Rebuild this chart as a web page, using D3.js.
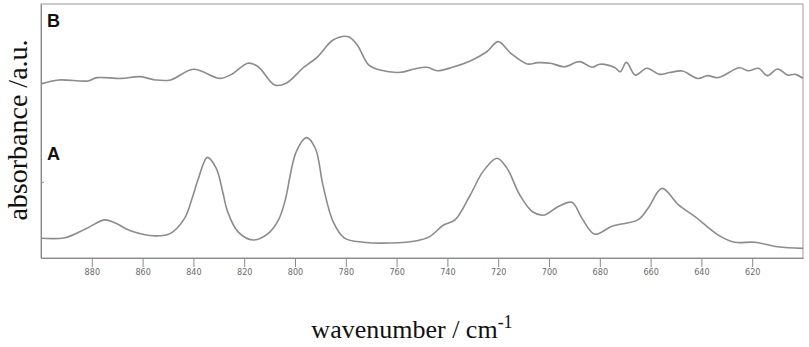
<!DOCTYPE html>
<html>
<head>
<meta charset="utf-8">
<script src="https://cdn.jsdelivr.net/npm/d3@7"></script>
<style>
  body { margin: 0; background: #fff; }
  .axis path, .axis line { stroke: #8a8a8a; }
  .axis text { fill: #6a6a6a; font-family: 'Liberation Sans Narrow', 'DejaVu Sans Condensed', sans-serif; font-size: 9px; }
  .spectrum { fill: none; stroke: #8c8c8c; stroke-width: 1.6; }
</style>
</head>
<body>
<div class="spectrum-chart"></div>
<script>
var wavenumbersA = [900, 890.5, 882.5, 875, 871, 864.5, 855, 849, 843.5, 840.5, 838, 834.5, 831, 828.5, 826.5, 822.5, 816.5, 810.5, 806.5, 804, 799.5, 795.5, 792, 789, 785, 780.5, 773, 762.5, 752, 747, 741.5, 737, 731, 726, 720.5, 716.5, 711.5, 706.5, 702, 696.5, 691, 687, 682, 675, 665, 661, 655.5, 649, 642.5, 633.5, 627, 619, 610, 600];
var absorbanceA = [0.078, 0.080, 0.114, 0.150, 0.139, 0.106, 0.087, 0.097, 0.156, 0.235, 0.314, 0.396, 0.353, 0.262, 0.182, 0.104, 0.071, 0.097, 0.150, 0.222, 0.419, 0.474, 0.432, 0.287, 0.143, 0.078, 0.062, 0.059, 0.068, 0.084, 0.130, 0.150, 0.248, 0.340, 0.393, 0.353, 0.248, 0.182, 0.169, 0.202, 0.219, 0.156, 0.094, 0.126, 0.150, 0.196, 0.274, 0.209, 0.163, 0.091, 0.062, 0.062, 0.044, 0.038];

var wavenumbersB = [900, 893, 881.5, 878, 868.5, 861, 855, 849, 840, 829.5, 825, 818.5, 814.5, 808, 803.5, 799, 797, 791, 785, 779, 775.5, 771, 766.5, 758.5, 753.5, 748, 744, 738, 731, 724.5, 720, 715, 708.5, 704.5, 699.5, 694, 688, 683, 680, 674, 672, 669.5, 666, 661.5, 656.5, 652.5, 647.5, 641.5, 637.5, 633.5, 625, 621.5, 617.5, 614, 610, 606, 603, 600];
var absorbanceB = [0.685, 0.701, 0.697, 0.710, 0.707, 0.714, 0.701, 0.701, 0.743, 0.707, 0.723, 0.767, 0.753, 0.681, 0.688, 0.727, 0.747, 0.793, 0.858, 0.871, 0.839, 0.760, 0.740, 0.731, 0.743, 0.751, 0.737, 0.751, 0.776, 0.812, 0.852, 0.806, 0.764, 0.769, 0.767, 0.753, 0.773, 0.751, 0.763, 0.749, 0.733, 0.770, 0.720, 0.747, 0.723, 0.730, 0.736, 0.707, 0.718, 0.710, 0.749, 0.737, 0.747, 0.718, 0.744, 0.720, 0.723, 0.707];

var xTicks = [880, 860, 840, 820, 800, 780, 760, 740, 720, 700, 680, 660, 640, 620];
var yTicks = [0.30, 0.69];
var panelLabels = ['A', 'B'];

var margin = { top: 4, right: 6, bottom: 89, left: 41 };
var width = 809 - margin.left - margin.right;
var height = 347 - margin.top - margin.bottom;

var xScale = d3.scaleLinear()
  .domain([900, 600])
  .range([0, width]);

var yScale = d3.scaleLinear()
  .domain([0, 1])
  .range([height, 0]);

var line = d3.line()
  .x(function(d) { return xScale(d[0]); })
  .y(function(d) { return yScale(d[1]); })
  .curve(d3.curveCatmullRom.alpha(0.5));

var svg = d3.select('.spectrum-chart').append('svg')
    .attr('width', width + margin.left + margin.right)
    .attr('height', height + margin.top + margin.bottom)
  .append('g')
    .attr('transform', 'translate(' + margin.left + ',' + margin.top + ')');

svg.append('rect')
    .attr('width', width)
    .attr('height', height)
    .attr('fill', 'none')
    .attr('stroke', '#9a9a9a')
    .attr('stroke-width', 1);

svg.append('g')
    .attr('class', 'x axis')
    .attr('transform', 'translate(0,' + height + ')')
    .call(d3.axisBottom(xScale).tickValues(xTicks).tickSize(9).tickPadding(2).tickSizeOuter(0));

svg.append('g')
    .attr('class', 'y axis')
    .call(d3.axisLeft(yScale).tickValues(yTicks).tickSize(-3).tickFormat('').tickSizeOuter(0));

var spectra = [
  { label: panelLabels[0], points: d3.zip(wavenumbersA, absorbanceA) },
  { label: panelLabels[1], points: d3.zip(wavenumbersB, absorbanceB) }
];

svg.selectAll('.spectrum')
    .data(spectra)
  .enter().append('path')
    .attr('class', 'spectrum')
    .attr('d', function(d) { return line(d.points); });

svg.selectAll('.panel-label')
    .data(spectra)
  .enter().append('text')
    .attr('class', 'panel-label')
    .attr('x', 6)
    .attr('y', function(d) { return d.label === 'B' ? 23 : 156; })
    .attr('font-family', 'Liberation Sans, Arial, sans-serif')
    .attr('font-weight', 'bold')
    .attr('font-size', 18)
    .attr('fill', '#111')
    .text(function(d) { return d.label; });

var xLabel = svg.append('text')
    .attr('x', width / 2 - 10)
    .attr('y', height + 80)
    .attr('text-anchor', 'middle')
    .attr('font-family', 'Liberation Serif, Times New Roman, serif')
    .attr('font-size', 26)
    .attr('fill', '#111');
xLabel.append('tspan').text('wavenumber / cm');
xLabel.append('tspan')
    .attr('dy', -10)
    .attr('font-size', 18)
    .text('-1');

svg.append('text')
    .attr('transform', 'translate(' + (-14) + ',' + (height / 2 - 1) + ') rotate(-90)')
    .attr('text-anchor', 'middle')
    .attr('font-family', 'Liberation Serif, Times New Roman, serif')
    .attr('font-size', 28)
    .attr('fill', '#111')
    .text('absorbance /a.u.');
</script>
</body>
</html>
